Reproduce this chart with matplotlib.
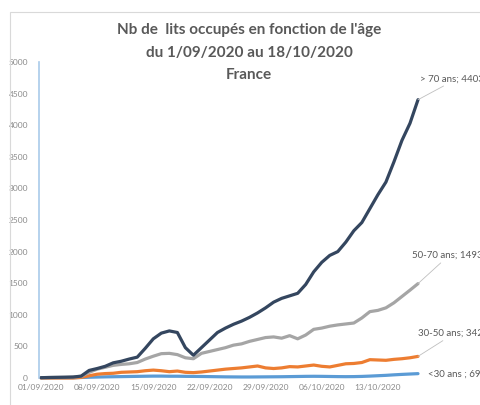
import numpy as np
import pandas as pd
import matplotlib
matplotlib.use("Agg")
import matplotlib.pyplot as plt
from matplotlib.patches import Rectangle

# ── data ──────────────────────────────────────────────────────────────────────
dates = pd.date_range("2020-09-01", "2020-10-18", freq="D")
tick_labels = [d.strftime("%d/%m/%Y") for d in dates[::7]]

over_70 = [5, 8, 10, 12, 15, 30, 120, 150, 185, 240, 265, 300,
           330, 470, 620, 710, 745, 720, 480, 360, 480, 600, 720, 790,
           850, 900, 960, 1030, 1110, 1200, 1260, 1300, 1340, 1480, 1680, 1830,
           1940, 2000, 2150, 2330, 2460, 2680, 2900, 3100, 3420, 3760, 4030, 4403]
age_50_70 = [5, 8, 10, 12, 15, 25, 90, 140, 170, 200, 215, 225,
             245, 300, 345, 385, 390, 370, 320, 305, 390, 420, 450, 480,
             520, 540, 580, 610, 640, 650, 630, 670, 620, 680, 770, 790,
             820, 840, 855, 870, 950, 1050, 1070, 1110, 1190, 1290, 1390, 1493]
age_30_50 = [0, 0, 0, 0, 0, 10, 35, 60, 70, 75, 90, 95,
             100, 115, 125, 115, 100, 110, 90, 85, 95, 110, 125, 140,
             150, 160, 175, 190, 160, 150, 160, 180, 175, 190, 205, 185,
             175, 200, 225, 230, 245, 290, 285, 280, 295, 305, 320, 342]
under_30 = [2, 3, 3, 4, 5, 8, 12, 15, 18, 20, 22, 24,
            26, 28, 30, 30, 28, 28, 26, 25, 24, 22, 20, 18,
            17, 16, 16, 17, 18, 19, 20, 22, 24, 26, 27, 26,
            24, 22, 21, 22, 25, 30, 36, 42, 50, 57, 63, 69]

series_names = ["> 70 ans", "50-70 ans", "30-50 ans", "<30 ans "]
series_values = [over_70, age_50_70, age_30_50, under_30]
series_colors = ["#34465f", "#a5a5a5", "#ed7d31", "#5b9bd5"]
# label offsets in pixels from the last point
label_offsets = [(2, 21), (-6, 28), (0, 23), (10, -1)]
label_leader = [True, True, True, False]

plt.rcParams["font.family"] = ["Lato", "DejaVu Sans"]

W, H = 480, 405
fig = plt.figure(figsize=(W / 100, H / 100), dpi=100)
fig.patch.set_facecolor("white")

# chart-area border (runs off the right/bottom of the crop)
fig.patches.append(Rectangle((10 / W, -0.1), 1.2, (H - 12) / H + 0.1,
                             transform=fig.transFigure, fill=False,
                             edgecolor="#d9d9d9", linewidth=0.8))

# axes placed in pixels: left spine x=39, y=0 at 378, y=5000 at 62
ax = fig.add_axes([39 / W, (H - 378) / H, (418 - 39) / W, (378 - 62) / H])
ax.set_facecolor("none")

x = np.arange(len(dates))
for vals, col in zip(series_values[::-1], series_colors[::-1]):
    ax.plot(x, vals, color=col, linewidth=2.3, solid_joinstyle="round",
            solid_capstyle="round", clip_on=False)

ax.set_xlim(-0.25, len(dates) - 1)
ax.set_ylim(0, 5000)
ax.set_yticks(np.arange(0, 5001, 500))
ax.set_yticklabels([str(v) for v in range(0, 5001, 500)])
ax.set_xticks(x[::7])
ax.set_xticklabels(tick_labels)
ax.tick_params(axis="both", length=0, labelsize=6, labelcolor="#8a8a8a")
ax.tick_params(axis="y", pad=8)
ax.tick_params(axis="x", pad=4)

for side in ("top", "right", "bottom"):
    ax.spines[side].set_visible(False)
ax.spines["left"].set_color("#a9cbea")
ax.spines["left"].set_linewidth(1.2)

# data labels at the end of each series
for name, vals, off, lead in zip(series_names, series_values,
                                 label_offsets, label_leader):
    arrow = dict(arrowstyle="-", color="#bfbfbf", linewidth=0.6,
                 relpos=(0.45, 0.0), shrinkA=0, shrinkB=0) if lead else None
    ax.annotate(f"{name}; {vals[-1]}", xy=(x[-1], vals[-1]), xytext=off,
                textcoords="offset pixels", ha="left", va="center",
                fontsize=7, color="#595959", arrowprops=arrow,
                annotation_clip=False)

# title, three lines
title_lines = ["Nb de  lits occupés en fonction de l'âge",
               "du 1/09/2020 au 18/10/2020",
               "France"]
for line, ypix in zip(title_lines, [30, 53, 75]):
    fig.text(249 / W, 1 - ypix / H, line, ha="center", va="center",
             fontsize=11, fontweight="bold", color="#595959")

fig.savefig("out.png", dpi=100)
